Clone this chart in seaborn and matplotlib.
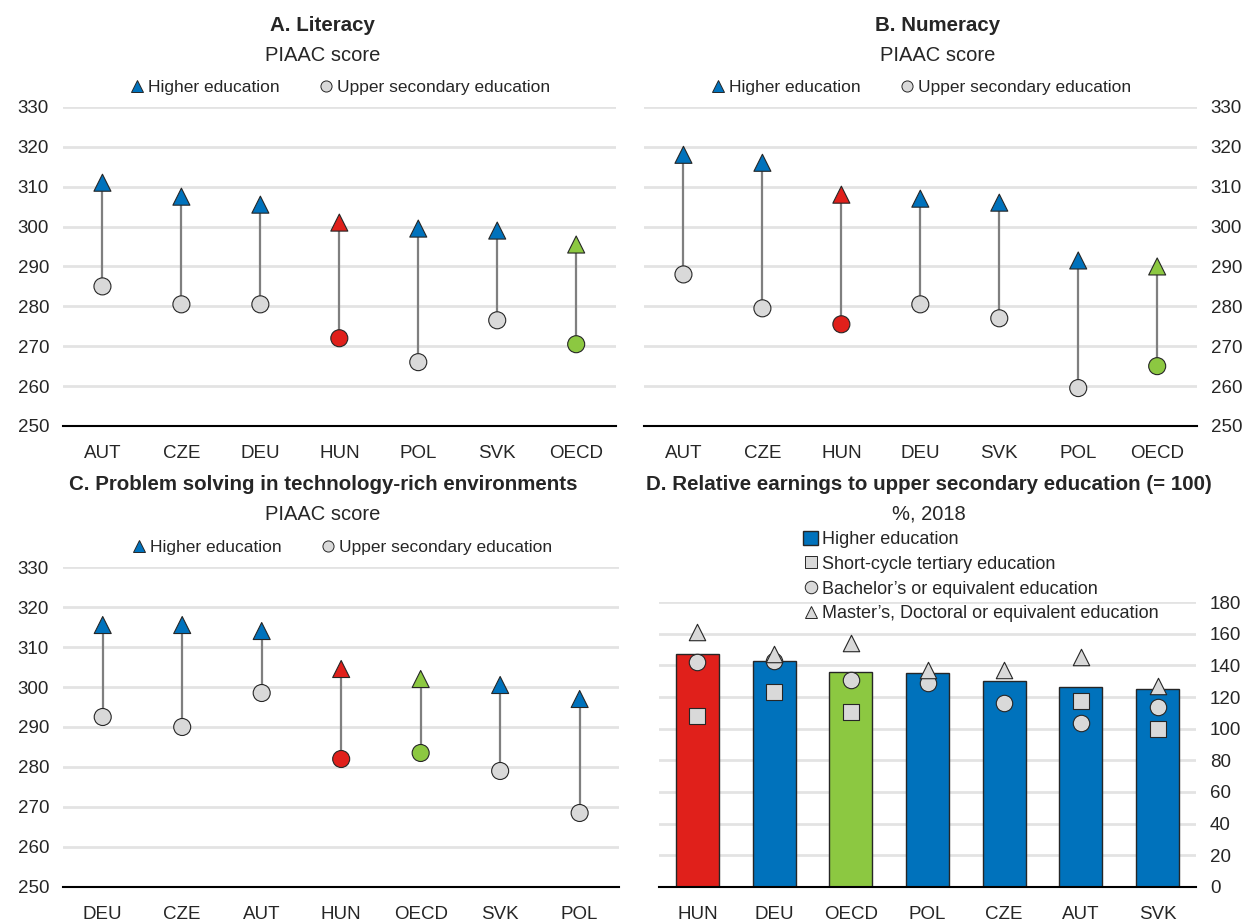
import numpy as np
import pandas as pd
import matplotlib
matplotlib.use("Agg")
import matplotlib.pyplot as plt
from matplotlib.lines import Line2D
from matplotlib.patches import Patch
import seaborn as sns

# Panel A: literacy
lit_countries = ["AUT", "CZE", "DEU", "HUN", "POL", "SVK", "OECD"]
lit_higher = [311, 307.5, 305.5, 301, 299.5, 299, 295.5]
lit_upper = [285, 280.5, 280.5, 272, 266, 276.5, 270.5]

# Panel B: numeracy
num_countries = ["AUT", "CZE", "HUN", "DEU", "SVK", "POL", "OECD"]
num_higher = [318, 316, 308, 307, 306, 291.5, 290]
num_upper = [288, 279.5, 275.5, 280.5, 277, 259.5, 265]

# Panel C: problem solving
ps_countries = ["DEU", "CZE", "AUT", "HUN", "OECD", "SVK", "POL"]
ps_higher = [315.5, 315.5, 314, 304.5, 302, 300.5, 297]
ps_upper = [292.5, 290, 298.5, 282, 283.5, 279, 268.5]

# Panel D: relative earnings
earn_countries = ["HUN", "DEU", "OECD", "POL", "CZE", "AUT", "SVK"]
earn_higher = [147.5, 142.5, 135.7, 135, 130.3, 126.5, 125]
earn_short = [108, 123, 110.7, np.nan, np.nan, 117.8, 99.7]
earn_bachelor = [142, 142.7, 130.5, 128.6, 116, 103.5, 113.4]
earn_master = [161, 147, 154, 137, 137, 145.5, 127]

BLUE = "#0072BC"
RED = "#E0201B"
GREEN = "#8CC841"
GREY = "#D9D9D9"
EDGE = "#262626"
GRID = "#E3E3E3"

sns.set_style("white")
plt.rcParams["font.family"] = ["Liberation Sans Narrow", "Liberation Sans", "DejaVu Sans"]
plt.rcParams["font.size"] = 13


def country_colour(c, default):
    if c == "HUN":
        return RED
    if c == "OECD":
        return GREEN
    return default


def style_axis(ax, ylim, yticks, right=False):
    ax.set_ylim(*ylim)
    ax.set_xlim(-0.5, 6.5)
    ax.set_yticks(yticks)
    for y in yticks[1:]:
        ax.axhline(y, color=GRID, lw=2, zorder=0)
    for s in ["top", "left", "right"]:
        ax.spines[s].set_visible(False)
    ax.spines["bottom"].set_color("black")
    ax.spines["bottom"].set_linewidth(1.5)
    ax.set_xticks(np.arange(7))
    ax.set_xticks(np.arange(-0.5, 7, 1), minor=True)
    ax.tick_params(axis="x", which="major", length=0, labelsize=13.5, pad=14)
    ax.tick_params(axis="x", which="minor", direction="in", length=6, width=1.2, color="black")
    ax.tick_params(axis="y", length=0, labelsize=13.5, pad=10)
    if right:
        ax.yaxis.tick_right()
    ax.set_xlabel("")
    ax.set_ylabel("")


def dumbbell(ax, countries, higher, upper, right=False):
    df = pd.DataFrame({"country": countries, "higher": higher, "upper": upper})
    pal_hi = {c: country_colour(c, BLUE) for c in countries}
    pal_up = {c: country_colour(c, GREY) for c in countries}
    x = np.arange(len(countries))
    ax.vlines(x, df["upper"], df["higher"], color="#7F7F7F", lw=1.6, zorder=2)
    sns.scatterplot(data=df, x="country", y="higher", hue="country", palette=pal_hi,
                    marker="^", s=150, edgecolor=EDGE, linewidth=0.8, legend=False,
                    ax=ax, zorder=3)
    sns.scatterplot(data=df, x="country", y="upper", hue="country", palette=pal_up,
                    marker="o", s=150, edgecolor=EDGE, linewidth=0.8, legend=False,
                    ax=ax, zorder=3)
    style_axis(ax, (250, 330), list(range(250, 331, 10)), right=right)
    handles = [
        Line2D([], [], marker="^", ls="", markerfacecolor=BLUE, markeredgecolor=EDGE,
               markersize=8, markeredgewidth=0.7, label="Higher education"),
        Line2D([], [], marker="o", ls="", markerfacecolor=GREY, markeredgecolor=EDGE,
               markersize=8, markeredgewidth=0.7, label="Upper secondary education"),
    ]
    ax.legend(handles=handles, ncol=2, loc="lower center", bbox_to_anchor=(0.5, 1.0),
              frameon=False, fontsize=12.5, handletextpad=0.1, columnspacing=2.2,
              handlelength=1.0, borderaxespad=0.3)


fig = plt.figure(figsize=(12.42, 9.22), dpi=100)
axA = fig.add_axes([0.0507, 0.538, 0.445, 0.346])
axB = fig.add_axes([0.5185, 0.538, 0.445, 0.346])
axC = fig.add_axes([0.0507, 0.038, 0.448, 0.347])
axD = fig.add_axes([0.5306, 0.038, 0.4324, 0.309])

dumbbell(axA, lit_countries, lit_higher, lit_upper)
dumbbell(axB, num_countries, num_higher, num_upper, right=True)
dumbbell(axC, ps_countries, ps_higher, ps_upper)

# Panel D
dfD = pd.DataFrame({"country": earn_countries, "higher": earn_higher,
                    "short": earn_short, "bachelor": earn_bachelor, "master": earn_master})
pal_bar = {c: country_colour(c, BLUE) for c in earn_countries}
sns.barplot(data=dfD, x="country", y="higher", hue="country", palette=pal_bar,
            width=0.56, edgecolor=EDGE, linewidth=1.0, legend=False, ax=axD, zorder=2,
            saturation=1)
for col, mk in [("short", "s"), ("bachelor", "o"), ("master", "^")]:
    sns.scatterplot(data=dfD, x="country", y=col, marker=mk, s=140, color=GREY,
                    edgecolor=EDGE, linewidth=0.8, legend=False, ax=axD, zorder=3)
style_axis(axD, (0, 180), list(range(0, 181, 20)), right=True)
handlesD = [
    Patch(facecolor=BLUE, edgecolor=EDGE, label="Higher education"),
    Line2D([], [], marker="s", ls="", markerfacecolor=GREY, markeredgecolor=EDGE,
           markersize=9, markeredgewidth=0.7, label="Short-cycle tertiary education"),
    Line2D([], [], marker="o", ls="", markerfacecolor=GREY, markeredgecolor=EDGE,
           markersize=9, markeredgewidth=0.7, label="Bachelor\u2019s or equivalent education"),
    Line2D([], [], marker="^", ls="", markerfacecolor=GREY, markeredgecolor=EDGE,
           markersize=9, markeredgewidth=0.7, label="Master\u2019s, Doctoral or equivalent education"),
]
fig.legend(handles=handlesD, loc="upper left", bbox_to_anchor=(0.641, 0.432),
           frameon=False, fontsize=13, handletextpad=0.25, handlelength=0.8,
           handleheight=0.8, labelspacing=0.42, borderaxespad=0)

# titles
titles = [
    (0.26, 0.972, "A. Literacy", "PIAAC score"),
    (0.755, 0.972, "B. Numeracy", "PIAAC score"),
    (0.26, 0.474, "C. Problem solving in technology-rich environments", "PIAAC score"),
    (0.748, 0.474, "D. Relative earnings to upper secondary education (= 100)", "%, 2018"),
]
for x, y, t, s in titles:
    fig.text(x, y, t, ha="center", va="center", fontsize=14.8, fontweight="bold")
    fig.text(x, y - 0.032, s, ha="center", va="center", fontsize=14.5)

fig.savefig("out.png", dpi=100)
